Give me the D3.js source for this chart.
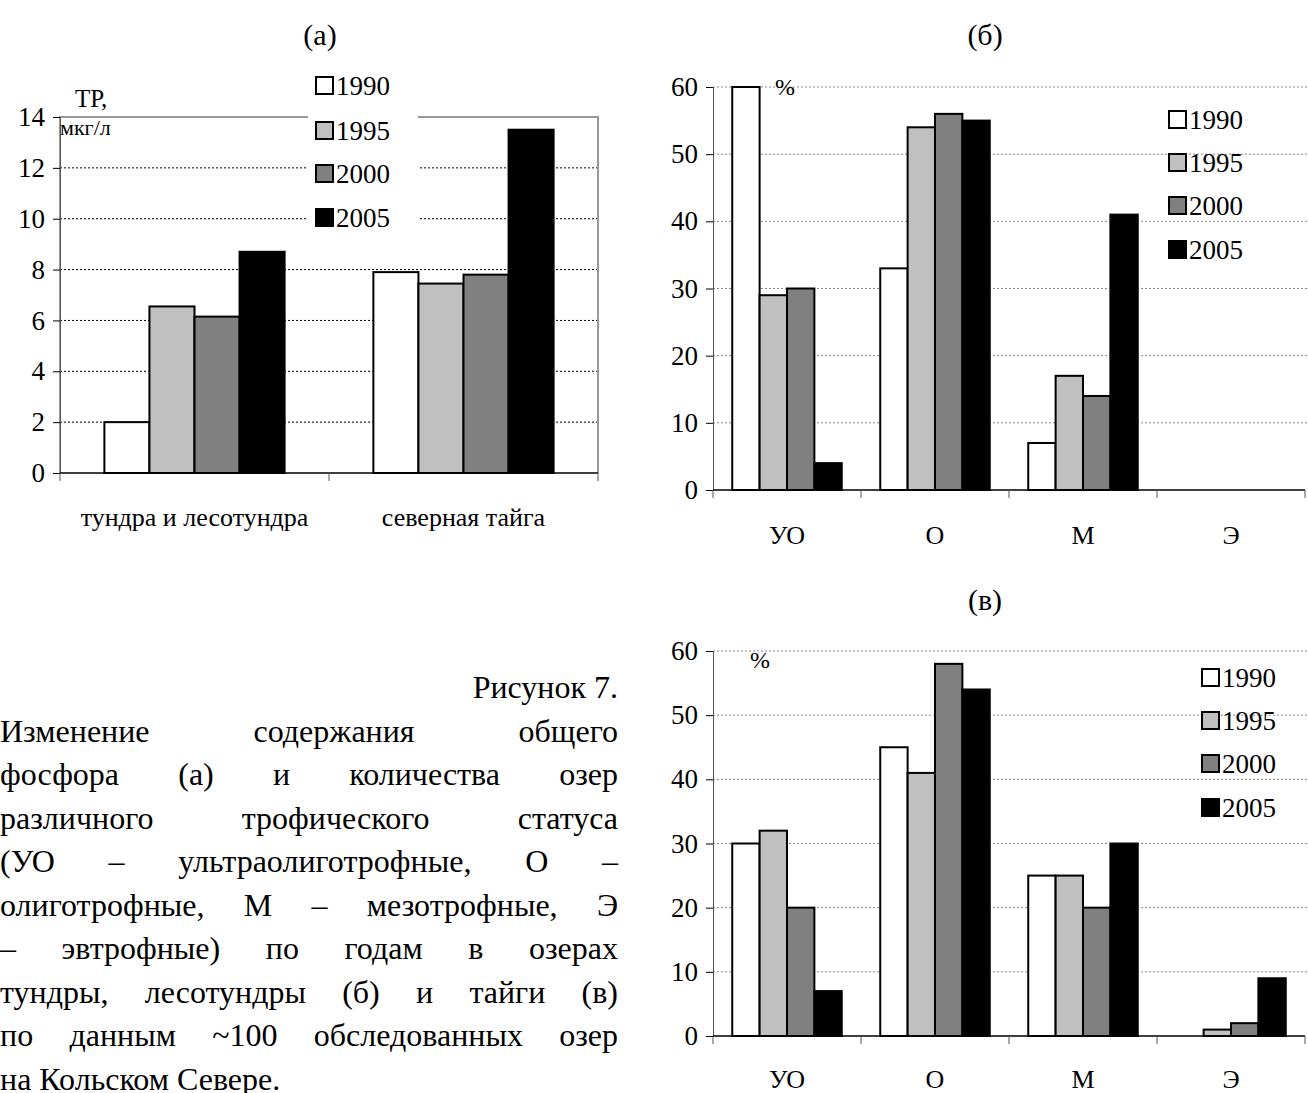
<!DOCTYPE html>
<html><head><meta charset="utf-8">
<script src="https://cdn.jsdelivr.net/npm/d3@7"></script>
<style>
body{margin:0;background:#fff;font-family:'Liberation Serif','Times New Roman',Tinos,serif;}
svg text{font-family:'Liberation Serif','Times New Roman',Tinos,serif !important;}
#cap{position:absolute;left:0;top:666px;width:618px;font-size:32px;line-height:43.5px;}
#cap div{text-align:justify;text-align-last:justify;white-space:nowrap;}
#cap div.l{text-align-last:left;}
</style></head><body>
<svg id="c" width="1308" height="1093" style="position:absolute;left:0;top:0"></svg>
<div id="cap">
<div style="text-align-last:right">Рисунок 7.</div>
<div>Изменение содержания общего</div>
<div>фосфора (а) и количества озер</div>
<div>различного трофического статуса</div>
<div>(УО – ультраолиготрофные, О –</div>
<div>олиготрофные, М – мезотрофные, Э</div>
<div>– эвтрофные) по годам в озерах</div>
<div>тундры, лесотундры (б) и тайги (в)</div>
<div>по данным ~100 обследованных озер</div>
<div class="l">на Кольском Севере.</div>
</div>
<script>
var years = ["1990","1995","2000","2005"];
var colors = ["#ffffff","#c0c0c0","#808080","#000000"];

var zonesA = ["тундра и лесотундра","северная тайга"];
var tpA = [[2.0,6.55,6.15,8.7],[7.9,7.45,7.8,13.5]];

var statusCats = ["УО","О","М","Э"];
var tundraB = [[60,29,30,4],[33,54,56,55],[7,17,14,41],[0,0,0,0]];
var taigaV = [[30,32,20,7],[45,41,58,54],[25,25,20,30],[0,1,2,9]];

var svg = d3.select("#c");

function chart(o){
  var g = svg.append("g");
  var x = d3.scaleBand().domain(o.cats).range([o.x0,o.x1]).paddingInner(o.pad).paddingOuter(o.pad/2);
  var xi = d3.scaleBand().domain(years).range([0,x.bandwidth()]);
  var y = d3.scaleLinear().domain([0,o.max]).range([o.y0,o.y1]);
  var ticks = d3.range(0,o.max+0.001,o.step);
  // grid
  g.selectAll(".gr").data(ticks.slice(1)).join("line")
    .attr("x1",o.x0).attr("x2",o.gx1).attr("y1",d=>y(d)).attr("y2",d=>y(d))
    .attr("stroke",o.box?"#000":"#888").attr("stroke-width",1).attr("stroke-dasharray","2,2");
  if(o.box){
    g.append("path").attr("d","M"+o.x0+","+o.y0+"V"+o.y1+"H"+o.x1+"V"+o.y0)
      .attr("fill","none").attr("stroke","#999").attr("stroke-width",2);
  }
  // bars
  o.cats.forEach(function(c,i){
    g.selectAll(".b"+i).data(o.vals[i]).join("rect")
      .attr("x",(d,j)=>x(c)+xi(years[j])).attr("width",xi.bandwidth())
      .attr("y",d=>y(d)).attr("height",d=>o.y0-y(d))
      .attr("fill",(d,j)=>colors[j]).attr("stroke","#000").attr("stroke-width",2);
  });
  // axes
  var ya = g.append("g").attr("transform","translate("+o.x0+",0)")
    .call(d3.axisLeft(y).tickValues(ticks).tickSize(7).tickPadding(8));
  ya.attr("font-family",null);
  ya.select(".domain").attr("stroke","#555");
  ya.selectAll("text").attr("font-size",27).attr("fill","#000");
  var bw = (o.x1-o.x0)/o.cats.length;
  g.append("line").attr("x1",o.x0).attr("x2",o.x1).attr("y1",o.y0).attr("y2",o.y0).attr("stroke","#000").attr("stroke-width",1.5);
  g.selectAll(".xt").data(d3.range(o.cats.length+1)).join("line")
    .attr("x1",d=>o.x0+d*bw).attr("x2",d=>o.x0+d*bw).attr("y1",o.y0).attr("y2",o.y0+8).attr("stroke","#555");
  g.selectAll(".xl").data(o.cats).join("text")
    .attr("x",d=>x(d)+x.bandwidth()/2).attr("y",o.y0+o.lab).attr("text-anchor","middle")
    .attr("font-size",26).text(d=>d);
  // title
  g.append("text").attr("x",o.tx).attr("y",o.ty).attr("text-anchor","middle")
    .attr("font-size",30).text(o.title);
  // legend
  var lg = g.append("g");
  if(o.box) lg.append("rect").attr("x",o.lx-8).attr("y",o.ly[0]-25).attr("width",110).attr("height",o.ly[3]-o.ly[0]+45).attr("fill","#fff");
  years.forEach(function(yr,j){
    lg.append("rect").attr("x",o.lx).attr("y",o.ly[j]-17).attr("width",17).attr("height",17)
      .attr("fill",colors[j]).attr("stroke","#000").attr("stroke-width",2);
    lg.append("text").attr("x",o.lx+20).attr("y",o.ly[j]+1).attr("font-size",27).text(yr);
  });
  return g;
}

var a = chart({cats:zonesA,vals:tpA,x0:60,x1:598,gx1:598,y0:473,y1:117,max:14,step:2,pad:0.33,box:true,
  lab:53,tx:320,ty:45,title:"(а)",lx:316,ly:[94,139,182,226]});
a.append("text").attr("x",75).attr("y",107).attr("font-size",25).text("ТР,");
a.append("text").attr("x",60).attr("y",135).attr("font-size",22).text("мкг/л");

var b = chart({cats:statusCats,vals:tundraB,x0:713,x1:1305,gx1:1308,y0:490,y1:87,max:60,step:10,pad:0.26,box:false,
  lab:54,tx:985,ty:45,title:"(б)",lx:1169,ly:[128,171,214,258]});
b.append("text").attr("x",775).attr("y",95).attr("font-size",24).text("%");

var v = chart({cats:statusCats,vals:taigaV,x0:713,x1:1305,gx1:1308,y0:1036,y1:651,max:60,step:10,pad:0.26,box:false,
  lab:52,tx:985,ty:610,title:"(в)",lx:1202,ly:[686,729,772,816]});
v.append("text").attr("x",750).attr("y",668).attr("font-size",24).text("%");
</script>
</body></html>
